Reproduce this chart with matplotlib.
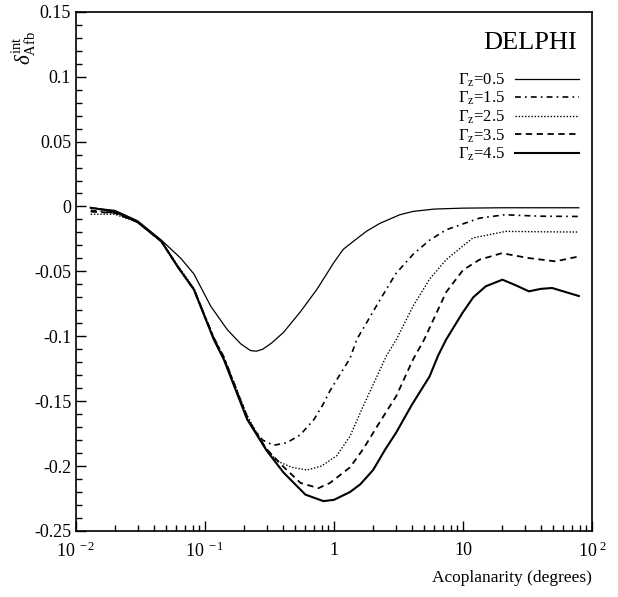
import numpy as np
import matplotlib.pyplot as plt
from matplotlib.ticker import FixedLocator, FixedFormatter, MultipleLocator, LogLocator, NullFormatter

plt.rcParams['font.family'] = ['Liberation Serif', 'DejaVu Serif']
plt.rcParams['mathtext.fontset'] = 'custom'
plt.rcParams['mathtext.rm'] = 'Liberation Serif'
plt.rcParams['mathtext.it'] = 'Liberation Serif:italic'

# acoplanarity (degrees) and delta_Afb^int
x_05 = [0.013, 0.02, 0.03, 0.046, 0.065, 0.082, 0.111, 0.149, 0.19, 0.225, 0.25, 0.28, 0.33,
        0.406, 0.55, 0.735, 1.0, 1.18, 1.45, 1.79, 2.27, 3.23, 4.1, 6.0, 9.9, 20, 40, 79]
y_05 = [-0.001, -0.003, -0.011, -0.026, -0.040, -0.052, -0.077, -0.095, -0.106, -0.111,
        -0.1115, -0.110, -0.105, -0.097, -0.081, -0.064, -0.043, -0.033, -0.026, -0.019,
        -0.013, -0.0064, -0.0038, -0.002, -0.0013, -0.001, -0.001, -0.001]

x_15 = [0.013, 0.02, 0.03, 0.046, 0.061, 0.082, 0.117, 0.14, 0.19, 0.225, 0.28, 0.34,
        0.43, 0.547, 0.70, 0.827, 0.93, 1.33, 1.5, 2.27, 3.0, 4.09, 5.5, 7.4, 13.4, 21, 40, 79]
y_15 = [-0.003, -0.005, -0.012, -0.027, -0.046, -0.064, -0.101, -0.116, -0.150, -0.168,
        -0.180, -0.184, -0.182, -0.176, -0.164, -0.152, -0.142, -0.117, -0.1025, -0.072,
        -0.052, -0.037, -0.026, -0.018, -0.009, -0.0064, -0.0075, -0.0077]

x_25 = [0.013, 0.02, 0.03, 0.046, 0.061, 0.082, 0.117, 0.14, 0.212, 0.28, 0.36, 0.47,
        0.616, 0.80, 1.05, 1.33, 1.68, 2.55, 3.04, 4.09, 5.5, 7.4, 11.9, 21.4, 40, 79]
y_25 = [-0.006, -0.006, -0.012, -0.027, -0.045, -0.063, -0.101, -0.116, -0.161, -0.183,
        -0.196, -0.201, -0.203, -0.200, -0.192, -0.177, -0.154, -0.115, -0.1025, -0.077,
        -0.056, -0.041, -0.0243, -0.0192, -0.0195, -0.0197]

x_35 = [0.013, 0.02, 0.03, 0.046, 0.061, 0.082, 0.117, 0.14, 0.212, 0.30, 0.40, 0.55,
        0.757, 0.93, 1.33, 1.68, 2.3, 3.04, 4.09, 5.0, 7.4, 10, 13.4, 20, 32, 52, 79]
y_35 = [-0.004, -0.005, -0.012, -0.027, -0.046, -0.064, -0.102, -0.117, -0.163, -0.187,
        -0.200, -0.213, -0.217, -0.213, -0.201, -0.187, -0.165, -0.146, -0.118, -0.1025,
        -0.066, -0.049, -0.041, -0.036, -0.0397, -0.0423, -0.0385]

x_45 = [0.013, 0.02, 0.03, 0.046, 0.061, 0.082, 0.117, 0.14, 0.212, 0.30, 0.406, 0.6,
        0.827, 1.0, 1.33, 1.6, 2.01, 2.5, 3.04, 4.0, 5.5, 6.4, 7.4, 9.9, 12, 15, 20.2, 26,
        32.4, 40, 49, 79]
y_45 = [-0.001, -0.004, -0.012, -0.027, -0.046, -0.064, -0.1025, -0.118, -0.164, -0.188,
        -0.205, -0.222, -0.227, -0.226, -0.220, -0.214, -0.203, -0.187, -0.174, -0.153,
        -0.131, -0.115, -0.1025, -0.082, -0.070, -0.0615, -0.0564, -0.061, -0.0654,
        -0.0635, -0.0628, -0.069]

labels = [r'$\Gamma_{\rm z}$=0.5', r'$\Gamma_{\rm z}$=1.5', r'$\Gamma_{\rm z}$=2.5',
          r'$\Gamma_{\rm z}$=3.5', r'$\Gamma_{\rm z}$=4.5']

xtick_vals = [0.01, 0.1, 1, 10, 100]
xtick_labels = [r'$10^{\ -2}$', r'$10^{\ -1}$', '1', '10', r'$10^{\ 2}$']
ytick_vals = [-0.25, -0.2, -0.15, -0.1, -0.05, 0, 0.05, 0.1, 0.15]
ytick_labels = ['-0.25', '-0.2', '-0.15', '-0.1', '-0.05', '0', '0.05', '0.1', '0.15']

fig = plt.figure(figsize=(6.18, 5.97), dpi=100)
ax = fig.add_axes([0.123, 0.1106, 0.835, 0.8697])

series = [(x_05, y_05), (x_15, y_15), (x_25, y_25), (x_35, y_35), (x_45, y_45)]
styles = [
    dict(ls='-', lw=0.9),
    dict(ls=(0, (3.5, 2.5, 1, 2.5)), lw=1.2),
    dict(ls=(0, (1, 1.3)), lw=1.0),
    dict(ls=(0, (3.5, 2.5)), lw=1.3),
    dict(ls='-', lw=1.5),
]
for (xs, ys), st, lab in zip(series, styles, labels):
    ax.plot(xs, ys, color='black', label=lab, solid_joinstyle='round', **st)

ax.set_xscale('log')
ax.set_xlim(0.01, 100)
ax.set_ylim(-0.25, 0.15)

ax.xaxis.set_major_locator(FixedLocator(xtick_vals))
ax.xaxis.set_major_formatter(FixedFormatter(xtick_labels))
ax.xaxis.set_minor_locator(LogLocator(base=10, subs=np.arange(2, 10)))
ax.xaxis.set_minor_formatter(NullFormatter())
ax.yaxis.set_major_locator(FixedLocator(ytick_vals))
ax.yaxis.set_major_formatter(FixedFormatter(ytick_labels))
ax.yaxis.set_minor_locator(MultipleLocator(0.01))

ax.tick_params(which='both', direction='in', top=False, right=False, width=1.0)
ax.tick_params(which='major', length=7, labelsize=13)
ax.tick_params(which='minor', length=4)
ax.tick_params(axis='x', which='major', pad=8)
for sp in ax.spines.values():
    sp.set_linewidth(1.2)

ax.text(0.971, 0.94, 'DELPHI', transform=ax.transAxes, ha='right', va='center', fontsize=19)
ax.legend(loc='upper right', bbox_to_anchor=(0.975, 0.885), frameon=False, markerfirst=False,
          fontsize=12, handlelength=3.85, handletextpad=0.6, labelspacing=0.07,
          borderpad=0, borderaxespad=0)

fig.text(592 / 618, 1 - 578 / 597, 'Acoplanarity (degrees)', ha='right', va='center', fontsize=12.5)
fig.text(24 / 618, 1 - 48 / 597, r'$\delta^{\rm int}_{\rm Afb}$', rotation=90,
         ha='center', va='center', fontsize=15)

fig.savefig('out.png', dpi=100)
